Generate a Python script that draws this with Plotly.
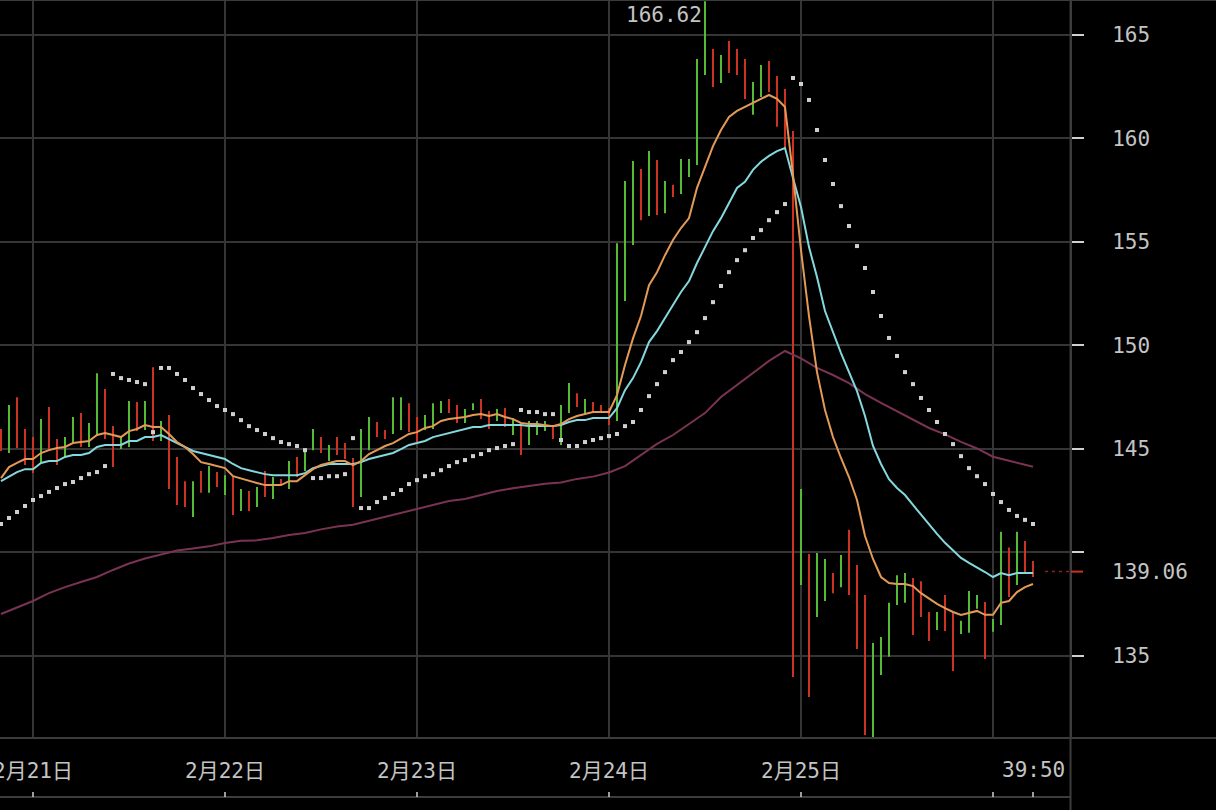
import pandas as pd
import plotly.graph_objects as go

# ---------------- data (hourly bars) ----------------
times = pd.date_range("2021-02-20 20:00", periods=130, freq="h")

high = [145.95, 147.11, 147.49, 145.95, 145.56, 146.43, 147.01, 145.47, 145.56, 146.53,
        146.72, 146.24, 148.65, 147.88, 146.09, 145.56, 147.30, 147.25, 147.30, 148.94,
        146.34, 146.63, 144.60, 143.43, 143.43, 143.92, 144.16, 143.87, 143.72, 143.63,
        143.05, 142.95, 143.15, 143.92, 143.63, 143.53, 144.40, 144.60, 144.98, 145.95,
        145.56, 145.18, 145.56, 145.27, 144.55, 145.95, 146.53, 146.29, 145.90, 147.49,
        147.49, 147.20, 146.53, 146.63, 147.20, 147.30, 147.40, 147.11, 146.92, 147.20,
        147.40, 146.82, 146.92, 146.96, 146.48, 146.14, 146.34, 146.34, 146.34, 146.14,
        147.11, 148.17, 147.68, 147.40, 147.25, 147.11, 146.96, 154.93, 157.94, 158.90,
        158.51, 159.38, 158.95, 157.94, 157.75, 159.00, 159.00, 163.83, 166.62, 164.31,
        164.02, 164.70, 164.31, 163.83, 162.72, 163.54, 163.73, 163.01, 162.38, 160.35,
        143.05, 139.91, 139.96, 139.67, 138.99, 139.86, 141.08, 139.38, 137.93, 135.61,
        135.90, 137.55, 138.89, 138.99, 138.75, 138.60, 137.11, 137.11, 137.93, 137.11,
        136.68, 138.12, 137.93, 137.59, 136.77, 140.99, 140.22, 140.99, 140.54, 139.57]

low = [144.89, 144.79, 145.03, 144.21, 143.82, 144.35, 144.93, 144.21, 144.60, 145.27,
       145.08, 145.08, 145.61, 145.47, 144.11, 144.98, 145.08, 145.85, 145.90, 145.37,
       145.37, 143.05, 142.28, 142.18, 141.70, 142.87, 142.87, 143.15, 142.76, 141.80,
       141.99, 141.99, 142.18, 142.66, 142.57, 143.24, 143.05, 143.63, 143.92, 144.93,
       144.79, 144.40, 144.69, 144.50, 142.18, 142.66, 144.93, 145.56, 145.47, 145.71,
       145.90, 145.80, 145.32, 145.90, 145.95, 146.72, 146.72, 146.24, 146.24, 146.87,
       146.43, 145.95, 146.34, 146.05, 145.66, 144.69, 145.18, 145.66, 145.85, 145.47,
       145.18, 146.72, 147.01, 146.63, 146.72, 146.82, 146.14, 146.34, 152.13, 154.84,
       156.04, 156.24, 156.29, 156.38, 157.16, 157.30, 158.13, 158.71, 163.06, 162.48,
       162.67, 163.15, 163.06, 161.90, 161.13, 161.99, 162.24, 160.55, 159.53, 133.97,
       138.41, 133.00, 136.87, 137.64, 138.02, 138.31, 137.93, 135.32, 131.17, 131.01,
       134.07, 134.94, 137.45, 137.55, 136.00, 136.87, 135.71, 136.24, 136.19, 134.26,
       136.05, 136.10, 137.26, 134.84, 136.15, 136.48, 137.83, 138.41, 139.04, 138.80]

# 1 = rising bar (green), 0 = falling bar (red)
rising = [0, 1, 0, 0, 0, 1, 0, 0, 1, 1,
          0, 1, 1, 0, 0, 1, 1, 0, 1, 0,
          1, 0, 0, 0, 1, 0, 1, 0, 1, 0,
          1, 0, 1, 0, 1, 0, 1, 0, 1, 1,
          0, 1, 0, 0, 0, 1, 1, 0, 0, 1,
          1, 0, 0, 1, 1, 1, 0, 0, 1, 1,
          0, 0, 1, 0, 1, 0, 1, 1, 1, 0,
          1, 1, 0, 1, 0, 0, 0, 1, 1, 1,
          0, 1, 0, 1, 0, 1, 1, 1, 1, 0,
          1, 0, 0, 0, 1, 1, 0, 0, 0, 0,
          1, 0, 1, 1, 0, 1, 0, 0, 0, 1,
          1, 1, 1, 1, 0, 0, 0, 1, 0, 0,
          1, 1, 1, 0, 1, 1, 0, 1, 0, 0]

ma_fast = [143.58, 144.11, 144.31, 144.50, 144.50, 144.79, 144.93, 145.03, 145.08, 145.27,
           145.32, 145.37, 145.66, 145.76, 145.66, 145.56, 145.85, 145.95, 146.14, 146.05,
           146.05, 145.71, 145.32, 145.08, 144.74, 144.35, 144.26, 144.16, 144.06, 143.67,
           143.55, 143.43, 143.34, 143.24, 143.24, 143.24, 143.43, 143.43, 143.72, 144.01,
           144.21, 144.31, 144.40, 144.40, 144.21, 144.40, 144.74, 144.93, 145.13, 145.27,
           145.51, 145.71, 145.80, 146.00, 146.09, 146.34, 146.43, 146.48, 146.53, 146.63,
           146.67, 146.58, 146.67, 146.53, 146.43, 146.24, 146.19, 146.19, 146.14, 146.09,
           146.19, 146.43, 146.58, 146.67, 146.77, 146.77, 146.77, 147.59, 149.04, 150.33,
           151.41, 152.90, 153.53, 154.35, 155.08, 155.66, 156.14, 157.60, 158.66, 159.62,
           160.40, 161.03, 161.32, 161.51, 161.71, 161.90, 162.09, 161.90, 161.51, 158.23,
           154.59, 151.41, 148.70, 146.87, 145.56, 144.55, 143.63, 142.52, 140.78, 139.67,
           138.80, 138.51, 138.46, 138.46, 138.36, 138.02, 137.74, 137.50, 137.30, 137.11,
           136.97, 137.06, 137.16, 136.97, 136.97, 137.55, 137.64, 138.07, 138.31, 138.46]

ma_mid = [143.43, 143.67, 143.87, 144.01, 144.01, 144.31, 144.40, 144.40, 144.60, 144.69,
          144.69, 144.79, 145.08, 145.18, 145.18, 145.18, 145.37, 145.37, 145.56, 145.56,
          145.66, 145.47, 145.27, 145.08, 144.89, 144.79, 144.69, 144.60, 144.50, 144.26,
          144.06, 143.96, 143.87, 143.77, 143.72, 143.72, 143.72, 143.72, 143.82, 144.06,
          144.16, 144.26, 144.26, 144.26, 144.26, 144.35, 144.50, 144.60, 144.69, 144.79,
          144.98, 145.18, 145.27, 145.37, 145.56, 145.66, 145.76, 145.85, 145.95, 146.05,
          146.05, 146.14, 146.14, 146.14, 146.14, 146.14, 146.09, 146.09, 146.09, 146.09,
          146.14, 146.29, 146.38, 146.38, 146.48, 146.48, 146.48, 146.96, 147.83, 148.41,
          149.18, 150.15, 150.68, 151.31, 151.94, 152.57, 153.10, 153.97, 154.74, 155.51,
          156.14, 156.87, 157.60, 157.89, 158.47, 158.86, 159.15, 159.38, 159.53, 158.08,
          156.68, 154.74, 153.29, 151.65, 150.59, 149.62, 148.70, 147.78, 146.58, 145.13,
          144.26, 143.53, 143.10, 142.76, 142.28, 141.80, 141.32, 140.88, 140.45, 140.06,
          139.72, 139.48, 139.28, 139.04, 138.80, 138.99, 138.89, 138.99, 138.99, 138.99]

sar = [141.36, 141.65, 141.94, 142.23, 142.52, 142.71, 142.91, 143.10, 143.29, 143.39,
       143.58, 143.77, 143.87, 144.16, 148.61, 148.41, 148.32, 148.22, 148.12, 145.80,
       148.90, 148.90, 148.61, 148.32, 147.93, 147.64, 147.35, 147.06, 146.87, 146.67,
       146.38, 146.09, 145.90, 145.71, 145.51, 145.32, 145.22, 145.13, 144.93, 143.58,
       143.58, 143.67, 143.67, 143.77, 145.51, 142.13, 142.13, 142.42, 142.62, 142.81,
       143.00, 143.29, 143.48, 143.67, 143.77, 143.96, 144.16, 144.35, 144.45, 144.64,
       144.74, 144.93, 145.03, 145.13, 145.22, 146.87, 146.77, 146.77, 146.67, 146.67,
       145.42, 145.13, 145.13, 145.32, 145.42, 145.51, 145.61, 145.71, 146.09, 146.29,
       146.87, 147.54, 148.12, 148.70, 149.28, 149.67, 150.15, 150.63, 151.31, 152.08,
       152.86, 153.53, 154.11, 154.59, 155.18, 155.56, 156.04, 156.43, 156.82, 162.91,
       162.62, 161.85, 160.40, 158.95, 157.79, 156.72, 155.76, 154.79, 153.73, 152.57,
       151.41, 150.35, 149.48, 148.70, 148.12, 147.45, 146.87, 146.29, 145.71, 145.22,
       144.64, 144.06, 143.67, 143.29, 142.81, 142.42, 142.04, 141.75, 141.56, 141.36]

# long moving average, read at every second bar
ma_long_bar = list(range(0, 130, 2)) + [129]
ma_long = [137.01, 137.33, 137.64, 138.02, 138.31, 138.56, 138.80, 139.14, 139.45, 139.69,
           139.89, 140.08, 140.18, 140.28, 140.44, 140.55, 140.57, 140.68, 140.83, 140.93,
           141.10, 141.24, 141.32, 141.51, 141.70, 141.89, 142.08, 142.28, 142.47, 142.57,
           142.76, 142.95, 143.09, 143.20, 143.31, 143.37, 143.54, 143.65, 143.85, 144.16,
           144.69, 145.23, 145.66, 146.17, 146.72, 147.50, 148.08, 148.69, 149.24, 149.72,
           149.36, 148.90, 148.56, 148.17, 147.64, 147.21, 146.82, 146.42, 146.00, 145.69,
           145.33, 145.01, 144.61, 144.42, 144.23, 144.13]

day_ticks = ["2021-02-21", "2021-02-22", "2021-02-23", "2021-02-24", "2021-02-25", "2021-02-26"]
day_labels = ["2月21日", "2月22日", "2月23日", "2月24日", "2月25日", ""]
price_ticks = [135, 140, 145, 150, 155, 160, 165]
price_labels = ["135", "", "145", "150", "155", "160", "165"]
last_price = 139.06
time_label = "39:50"
high_label = "166.62"
low_label = "131.01"

# ---------------- figure ----------------
FONT = "DejaVu Sans Mono, Noto Sans CJK SC, monospace"
TXT = "#c4c4c4"
GREEN = "#55bb35"
RED = "#cc3322"

fig = go.Figure()


def bar_segments(flag):
    xs, ys = [], []
    for t, h, l, r in zip(times, high, low, rising):
        if r == flag:
            xs += [t, t, None]
            ys += [l, h, None]
    return xs, ys


for flag, col in ((1, GREEN), (0, RED)):
    xs, ys = bar_segments(flag)
    fig.add_trace(go.Scatter(x=xs, y=ys, mode="lines", line=dict(color=col, width=2),
                             hoverinfo="skip", showlegend=False))

fig.add_trace(go.Scatter(x=[times[i] for i in ma_long_bar], y=ma_long, mode="lines",
                         line=dict(color="#7a3352", width=2), hoverinfo="skip", showlegend=False))
fig.add_trace(go.Scatter(x=times, y=ma_mid, mode="lines",
                         line=dict(color="#84d8de", width=2), hoverinfo="skip", showlegend=False))
fig.add_trace(go.Scatter(x=times, y=ma_fast, mode="lines",
                         line=dict(color="#e39a58", width=2), hoverinfo="skip", showlegend=False))
fig.add_trace(go.Scatter(x=times, y=sar, mode="markers",
                         marker=dict(symbol="square", size=4, color="#cfcfcf", line=dict(width=0)),
                         hoverinfo="skip", showlegend=False))

x0 = times[0] - pd.Timedelta(minutes=7.5)
x1 = times[0] + pd.Timedelta(hours=133.625)

GRID = "#353535"
fig.update_layout(
    width=1216, height=810,
    margin=dict(l=0, r=146, t=0, b=72, autoexpand=False),
    paper_bgcolor="#000000", plot_bgcolor="#000000",
    font=dict(family=FONT, size=21, color=TXT),
    xaxis=dict(range=[x0, x1], tickvals=day_ticks, ticktext=day_labels,
               showgrid=True, gridcolor=GRID, gridwidth=1.5, zeroline=False,
               ticks="", showline=False, ticklabelstandoff=18, ticklabeloverflow="allow",
               automargin=False,
               tickfont=dict(family=FONT, size=21, color=TXT)),
    yaxis=dict(range=[131.02, 166.68], side="right", tickvals=price_ticks, ticktext=price_labels,
               showgrid=True, gridcolor=GRID, gridwidth=1.5, zeroline=False,
               ticks="outside", ticklen=12, tickwidth=1.5, tickcolor="#d0d0d0",
               showline=True, linecolor="#3c3c3c", linewidth=2, ticklabelstandoff=24,
               automargin=False,
               tickfont=dict(family=FONT, size=21, color=TXT)),
    hovermode=False,
)

PW, PH = 1070.0, 738.0
LINE = "#3c3c3c"
shapes = [
    # bottom of time axis
    dict(type="line", xref="paper", yref="paper", x0=0, x1=1, y0=-59 / PH, y1=-59 / PH,
         line=dict(color=LINE, width=2)),
    # separator under plot, across full width
    dict(type="line", xref="paper", yref="paper", x0=0, x1=1216 / PW, y0=0, y1=0,
         line=dict(color=LINE, width=2)),
    # top border
    dict(type="line", xref="paper", yref="paper", x0=0, x1=1216 / PW, y0=1, y1=1,
         line=dict(color=LINE, width=2)),
    # price axis line down to the bottom
    dict(type="line", xref="paper", yref="paper", x0=1.0005, x1=1.0005, y0=1, y1=-72 / PH,
         line=dict(color=LINE, width=2)),
    # current price dashed marker and red tick
    dict(type="line", xref="paper", yref="y", x0=1045 / PW, x1=1.0, y0=last_price, y1=last_price,
         line=dict(color="#8a2318", width=1.5, dash="3px,4px")),
    dict(type="line", xref="paper", yref="y", x0=1.001, x1=1.0 + 13 / PW, y0=last_price, y1=last_price,
         line=dict(color="#d03020", width=2)),
]
for d in day_ticks + [times[-1]]:
    shapes.append(dict(type="line", xref="x", yref="paper", x0=d, x1=d,
                       y0=-59 / PH, y1=-54 / PH, line=dict(color="#d0d0d0", width=1.5)))
fig.update_layout(shapes=shapes)

fig.add_annotation(x=times[88], y=166.62, text=high_label, showarrow=False,
                   xanchor="right", yanchor="top", xshift=-1, yshift=0,
                   font=dict(family=FONT, size=21, color=TXT))
fig.add_annotation(x=times[109], y=131.01, text=low_label, showarrow=False,
                   xanchor="right", yanchor="bottom", xshift=-1,
                   font=dict(family=FONT, size=21, color=TXT))
fig.add_annotation(xref="paper", x=1.0, y=last_price, text=f"{last_price:.2f}", showarrow=False,
                   xanchor="left", yanchor="middle", xshift=40,
                   font=dict(family=FONT, size=21, color=TXT))
fig.add_annotation(x=times[-1], yref="paper", y=-32 / PH, text=time_label, showarrow=False,
                   xanchor="center", yanchor="middle",
                   font=dict(family=FONT, size=21, color=TXT))

fig.write_html("out.html", config={"displayModeBar": False},
               post_script="document.body.style.margin='0';")
